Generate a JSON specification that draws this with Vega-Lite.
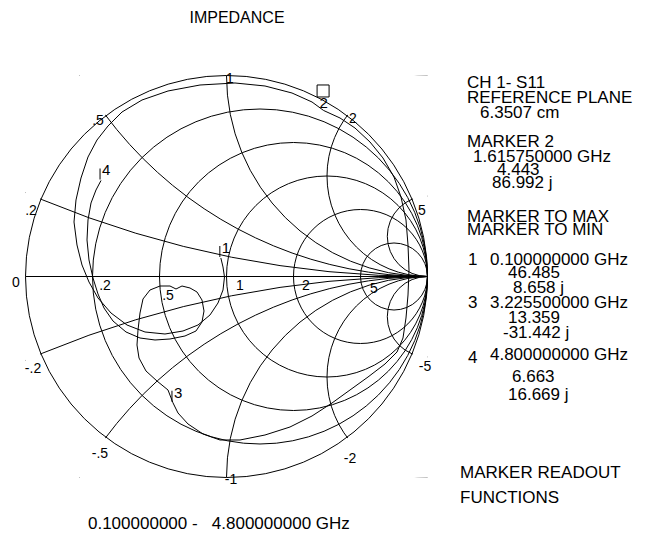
{
  "$schema": "https://vega.github.io/schema/vega-lite/v6.json",
  "width": 402,
  "height": 402,
  "autosize": {"type": "none"},
  "padding": {"left": 25.5, "top": 75.5, "right": 219.5, "bottom": 59.5},
  "background": "white",
  "config": {"view": {"stroke": null}},
  "datasets": {
    "rcircles": [
      {"gx": 0.16667, "gy": 0, "rho": 0.83333},
      {"gx": 0.33333, "gy": 0, "rho": 0.66667},
      {"gx": 0.5, "gy": 0, "rho": 0.5},
      {"gx": 0.66667, "gy": 0, "rho": 0.33333},
      {"gx": 0.83333, "gy": 0, "rho": 0.16667}
    ],
    "xcircles": [
      {"gx": 1, "gy": 5, "rho": 5},
      {"gx": 1, "gy": -5, "rho": 5},
      {"gx": 1, "gy": 2, "rho": 2},
      {"gx": 1, "gy": -2, "rho": 2},
      {"gx": 1, "gy": 1, "rho": 1},
      {"gx": 1, "gy": -1, "rho": 1},
      {"gx": 1, "gy": 0.5, "rho": 0.5},
      {"gx": 1, "gy": -0.5, "rho": 0.5},
      {"gx": 1, "gy": 0.2, "rho": 0.2},
      {"gx": 1, "gy": -0.2, "rho": 0.2}
    ],
    "mask": [{"gx": 0, "gy": 0, "rho": 1.5}],
    "outer": [{"gx": 0, "gy": 0, "rho": 1}],
    "axisline": [{"gx": -1, "gx2": 1, "gy": 0}],
    "trace": [
      {"i": 0, "gx": -0.0282, "gy": 0.0923},
      {"i": 1, "gx": -0.0174, "gy": 0.0473},
      {"i": 2, "gx": -0.0100, "gy": -0.0025},
      {"i": 3, "gx": -0.0174, "gy": -0.0672},
      {"i": 4, "gx": -0.0423, "gy": -0.1318},
      {"i": 5, "gx": -0.0821, "gy": -0.1915},
      {"i": 6, "gx": -0.1418, "gy": -0.2413},
      {"i": 7, "gx": -0.2164, "gy": -0.2711},
      {"i": 8, "gx": -0.3060, "gy": -0.2861},
      {"i": 9, "gx": -0.4055, "gy": -0.2761},
      {"i": 10, "gx": -0.4950, "gy": -0.2413},
      {"i": 11, "gx": -0.5746, "gy": -0.1816},
      {"i": 12, "gx": -0.6393, "gy": -0.1070},
      {"i": 13, "gx": -0.6841, "gy": -0.0274},
      {"i": 14, "gx": -0.7189, "gy": 0.0572},
      {"i": 15, "gx": -0.7438, "gy": 0.1567},
      {"i": 16, "gx": -0.7587, "gy": 0.2711},
      {"i": 17, "gx": -0.7488, "gy": 0.3806},
      {"i": 18, "gx": -0.7239, "gy": 0.4900},
      {"i": 19, "gx": -0.6891, "gy": 0.5945},
      {"i": 20, "gx": -0.6443, "gy": 0.6791},
      {"i": 21, "gx": -0.5896, "gy": 0.7488},
      {"i": 22, "gx": -0.5199, "gy": 0.8184},
      {"i": 23, "gx": -0.4204, "gy": 0.8781},
      {"i": 24, "gx": -0.2910, "gy": 0.9229},
      {"i": 25, "gx": -0.1318, "gy": 0.9527},
      {"i": 26, "gx": 0.0423, "gy": 0.9627},
      {"i": 27, "gx": 0.1915, "gy": 0.9478},
      {"i": 28, "gx": 0.3259, "gy": 0.9129},
      {"i": 29, "gx": 0.4254, "gy": 0.8682},
      {"i": 30, "gx": 0.4830, "gy": 0.8260},
      {"i": 31, "gx": 0.5647, "gy": 0.7886},
      {"i": 32, "gx": 0.6393, "gy": 0.7388},
      {"i": 33, "gx": 0.7139, "gy": 0.6692},
      {"i": 34, "gx": 0.7786, "gy": 0.5896},
      {"i": 35, "gx": 0.8333, "gy": 0.4950},
      {"i": 36, "gx": 0.8682, "gy": 0.3955},
      {"i": 37, "gx": 0.8930, "gy": 0.2811},
      {"i": 38, "gx": 0.9030, "gy": 0.1567},
      {"i": 39, "gx": 0.9080, "gy": 0.0323},
      {"i": 40, "gx": 0.9030, "gy": -0.0920},
      {"i": 41, "gx": 0.8930, "gy": -0.2065},
      {"i": 42, "gx": 0.8781, "gy": -0.3060},
      {"i": 43, "gx": 0.8483, "gy": -0.3756},
      {"i": 44, "gx": 0.7886, "gy": -0.4353},
      {"i": 45, "gx": 0.7040, "gy": -0.5000},
      {"i": 46, "gx": 0.6144, "gy": -0.5647},
      {"i": 47, "gx": 0.5249, "gy": -0.6294},
      {"i": 48, "gx": 0.4254, "gy": -0.6940},
      {"i": 49, "gx": 0.3159, "gy": -0.7488},
      {"i": 50, "gx": 0.1915, "gy": -0.7886},
      {"i": 51, "gx": 0.0672, "gy": -0.8134},
      {"i": 52, "gx": -0.0323, "gy": -0.8134},
      {"i": 53, "gx": -0.1169, "gy": -0.7836},
      {"i": 54, "gx": -0.1915, "gy": -0.7338},
      {"i": 55, "gx": -0.2413, "gy": -0.6791},
      {"i": 56, "gx": -0.2664, "gy": -0.6284},
      {"i": 57, "gx": -0.2910, "gy": -0.5647},
      {"i": 58, "gx": -0.3458, "gy": -0.5199},
      {"i": 59, "gx": -0.4005, "gy": -0.4701},
      {"i": 60, "gx": -0.4353, "gy": -0.4055},
      {"i": 61, "gx": -0.4453, "gy": -0.3408},
      {"i": 62, "gx": -0.4403, "gy": -0.2662},
      {"i": 63, "gx": -0.4303, "gy": -0.1816},
      {"i": 64, "gx": -0.4154, "gy": -0.1119},
      {"i": 65, "gx": -0.3806, "gy": -0.0672},
      {"i": 66, "gx": -0.3308, "gy": -0.0473},
      {"i": 67, "gx": -0.2811, "gy": -0.0473},
      {"i": 68, "gx": -0.2512, "gy": -0.0622},
      {"i": 69, "gx": -0.2214, "gy": -0.0473},
      {"i": 70, "gx": -0.1816, "gy": -0.0572},
      {"i": 71, "gx": -0.1468, "gy": -0.0771},
      {"i": 72, "gx": -0.1219, "gy": -0.1169},
      {"i": 73, "gx": -0.1119, "gy": -0.1716},
      {"i": 74, "gx": -0.1219, "gy": -0.2264},
      {"i": 75, "gx": -0.1517, "gy": -0.2711},
      {"i": 76, "gx": -0.2065, "gy": -0.2960},
      {"i": 77, "gx": -0.2811, "gy": -0.3109},
      {"i": 78, "gx": -0.3557, "gy": -0.3159},
      {"i": 79, "gx": -0.4303, "gy": -0.3060},
      {"i": 80, "gx": -0.5000, "gy": -0.2761},
      {"i": 81, "gx": -0.5647, "gy": -0.2214},
      {"i": 82, "gx": -0.6095, "gy": -0.1567},
      {"i": 83, "gx": -0.6393, "gy": -0.0871},
      {"i": 84, "gx": -0.6642, "gy": -0.0075},
      {"i": 85, "gx": -0.6841, "gy": 0.0821},
      {"i": 86, "gx": -0.6940, "gy": 0.1816},
      {"i": 87, "gx": -0.6891, "gy": 0.2811},
      {"i": 88, "gx": -0.6741, "gy": 0.3657},
      {"i": 89, "gx": -0.6493, "gy": 0.4303},
      {"i": 90, "gx": -0.6242, "gy": 0.4778}
    ],
    "markers": [
      {"m": "1", "gx": -0.0282, "gy": 0.0923},
      {"m": "3", "gx": -0.2664, "gy": -0.6284},
      {"m": "4", "gx": -0.6242, "gy": 0.4778}
    ],
    "active": [{"m": "2", "gx": 0.4830, "gy": 0.8260}],
    "gridlabels": [
      {"t": "0", "gx": -1.0473, "gy": -0.0323},
      {"t": ".2", "gx": -0.9726, "gy": 0.3259},
      {"t": ".5", "gx": -0.6393, "gy": 0.7736},
      {"t": "1", "gx": 0.0174, "gy": 0.9826},
      {"t": "2", "gx": 0.6294, "gy": 0.7836},
      {"t": "5", "gx": 0.9726, "gy": 0.3259},
      {"t": "-.2", "gx": -0.9627, "gy": -0.4602},
      {"t": "-.5", "gx": -0.6294, "gy": -0.8831},
      {"t": "-1", "gx": 0.0224, "gy": -1.0100},
      {"t": "-2", "gx": 0.6144, "gy": -0.9104},
      {"t": "-5", "gx": 0.9876, "gy": -0.4502},
      {"t": ".2", "gx": -0.6045, "gy": -0.0473},
      {"t": ".5", "gx": -0.2910, "gy": -0.0970},
      {"t": "1", "gx": 0.0672, "gy": -0.0473},
      {"t": "2", "gx": 0.3955, "gy": -0.0473},
      {"t": "5", "gx": 0.7338, "gy": -0.0622}
    ],
    "texts": [
      {"t": "CH 1- S11", "gx": 1.1965, "gy": 0.9378},
      {"t": "REFERENCE PLANE", "gx": 1.1965, "gy": 0.8632},
      {"t": "6.3507 cm", "gx": 1.2612, "gy": 0.7886},
      {"t": "MARKER 2", "gx": 1.1965, "gy": 0.6443},
      {"t": "1.615750000 GHz", "gx": 1.2264, "gy": 0.5697},
      {"t": "4.443", "gx": 1.3458, "gy": 0.5050},
      {"t": "86.992 j", "gx": 1.3209, "gy": 0.4403},
      {"t": "MARKER TO MAX", "gx": 1.1965, "gy": 0.2711},
      {"t": "MARKER TO MIN", "gx": 1.1965, "gy": 0.2065},
      {"t": "1", "gx": 1.2015, "gy": 0.0572},
      {"t": "0.100000000 GHz", "gx": 1.3109, "gy": 0.0572},
      {"t": "46.485", "gx": 1.4005, "gy": -0.0075},
      {"t": "8.658 j", "gx": 1.4254, "gy": -0.0821},
      {"t": "3", "gx": 1.2015, "gy": -0.1567},
      {"t": "3.225500000 GHz", "gx": 1.3109, "gy": -0.1567},
      {"t": "13.359", "gx": 1.4005, "gy": -0.2313},
      {"t": "-31.442 j", "gx": 1.3756, "gy": -0.3060},
      {"t": "4", "gx": 1.2015, "gy": -0.4303},
      {"t": "4.800000000 GHz", "gx": 1.3109, "gy": -0.4154},
      {"t": "6.663", "gx": 1.4204, "gy": -0.5249},
      {"t": "16.669 j", "gx": 1.4005, "gy": -0.6144},
      {"t": "MARKER READOUT", "gx": 1.1617, "gy": -1.0025},
      {"t": "FUNCTIONS", "gx": 1.1617, "gy": -1.1269},
      {"t": "0.100000000 -\u00a0\u00a0\u00a04.800000000 GHz", "gx": -0.6891, "gy": -1.2562}
    ],
    "title": [{"t": "IMPEDANCE", "gx": 0.0522, "gy": 1.2612}]
  },
  "encoding": {
    "x": {"field": "gx", "type": "quantitative", "scale": {"domain": [-1, 1], "nice": false, "zero": false}, "axis": null},
    "y": {"field": "gy", "type": "quantitative", "scale": {"domain": [-1, 1], "nice": false, "zero": false}, "axis": null}
  },
  "layer": [
    {
      "data": {"name": "rcircles"},
      "mark": {"type": "point", "shape": "circle", "filled": false, "stroke": "black", "strokeWidth": 1, "opacity": 1},
      "encoding": {"size": {"field": "rho", "type": "quantitative", "scale": {"type": "pow", "exponent": 2, "domain": [0, 1], "range": [0, 161604]}, "legend": null}}
    },
    {
      "data": {"name": "axisline"},
      "mark": {"type": "rule", "stroke": "black", "strokeWidth": 1},
      "encoding": {"x2": {"field": "gx2"}}
    },
    {
      "data": {"name": "xcircles"},
      "mark": {"type": "point", "shape": "circle", "filled": false, "stroke": "black", "strokeWidth": 1, "opacity": 1, "clip": true},
      "encoding": {"size": {"field": "rho", "type": "quantitative", "scale": {"type": "pow", "exponent": 2, "domain": [0, 1], "range": [0, 161604]}, "legend": null}}
    },
    {
      "data": {"name": "mask"},
      "mark": {"type": "point", "shape": "circle", "filled": false, "stroke": "white", "strokeWidth": 199, "opacity": 1, "clip": true},
      "encoding": {"size": {"field": "rho", "type": "quantitative", "scale": {"type": "pow", "exponent": 2, "domain": [0, 1], "range": [0, 161604]}, "legend": null}}
    },
    {
      "data": {"name": "outer"},
      "mark": {"type": "point", "shape": "circle", "filled": false, "stroke": "black", "strokeWidth": 1, "opacity": 1},
      "encoding": {"size": {"field": "rho", "type": "quantitative", "scale": {"type": "pow", "exponent": 2, "domain": [0, 1], "range": [0, 161604]}, "legend": null}}
    },
    {
      "data": {"name": "trace"},
      "mark": {"type": "line", "stroke": "black", "strokeWidth": 1},
      "encoding": {"order": {"field": "i", "type": "quantitative"}}
    },
    {
      "data": {"name": "markers"},
      "mark": {"type": "tick", "orient": "vertical", "color": "black", "thickness": 1, "size": 11, "yOffset": -6.5, "xOffset": -1, "opacity": 1}
    },
    {
      "data": {"name": "markers"},
      "mark": {"type": "text", "font": "Liberation Sans", "fontSize": 15, "color": "black", "align": "left", "baseline": "alphabetic", "dx": 1, "dy": -5},
      "encoding": {"text": {"field": "m"}}
    },
    {
      "data": {"name": "active"},
      "mark": {"type": "point", "shape": "square", "filled": false, "stroke": "black", "strokeWidth": 1, "opacity": 1, "size": 144, "yOffset": -19.5, "xOffset": -0.5}
    },
    {
      "data": {"name": "active"},
      "mark": {"type": "text", "font": "Liberation Sans", "fontSize": 15, "color": "black", "align": "center", "baseline": "alphabetic", "dy": -2},
      "encoding": {"text": {"field": "m"}}
    },
    {
      "data": {"name": "gridlabels"},
      "mark": {"type": "text", "font": "Liberation Sans", "fontSize": 14, "color": "black", "align": "center", "baseline": "middle"},
      "encoding": {"text": {"field": "t"}}
    },
    {
      "data": {"name": "texts"},
      "mark": {"type": "text", "font": "Liberation Sans", "fontSize": 17, "color": "black", "align": "left", "baseline": "alphabetic"},
      "encoding": {"text": {"field": "t"}}
    },
    {
      "data": {"name": "title"},
      "mark": {"type": "text", "font": "Liberation Sans", "fontSize": 16, "color": "black", "align": "center", "baseline": "alphabetic"},
      "encoding": {"text": {"field": "t"}}
    }
  ]
}
